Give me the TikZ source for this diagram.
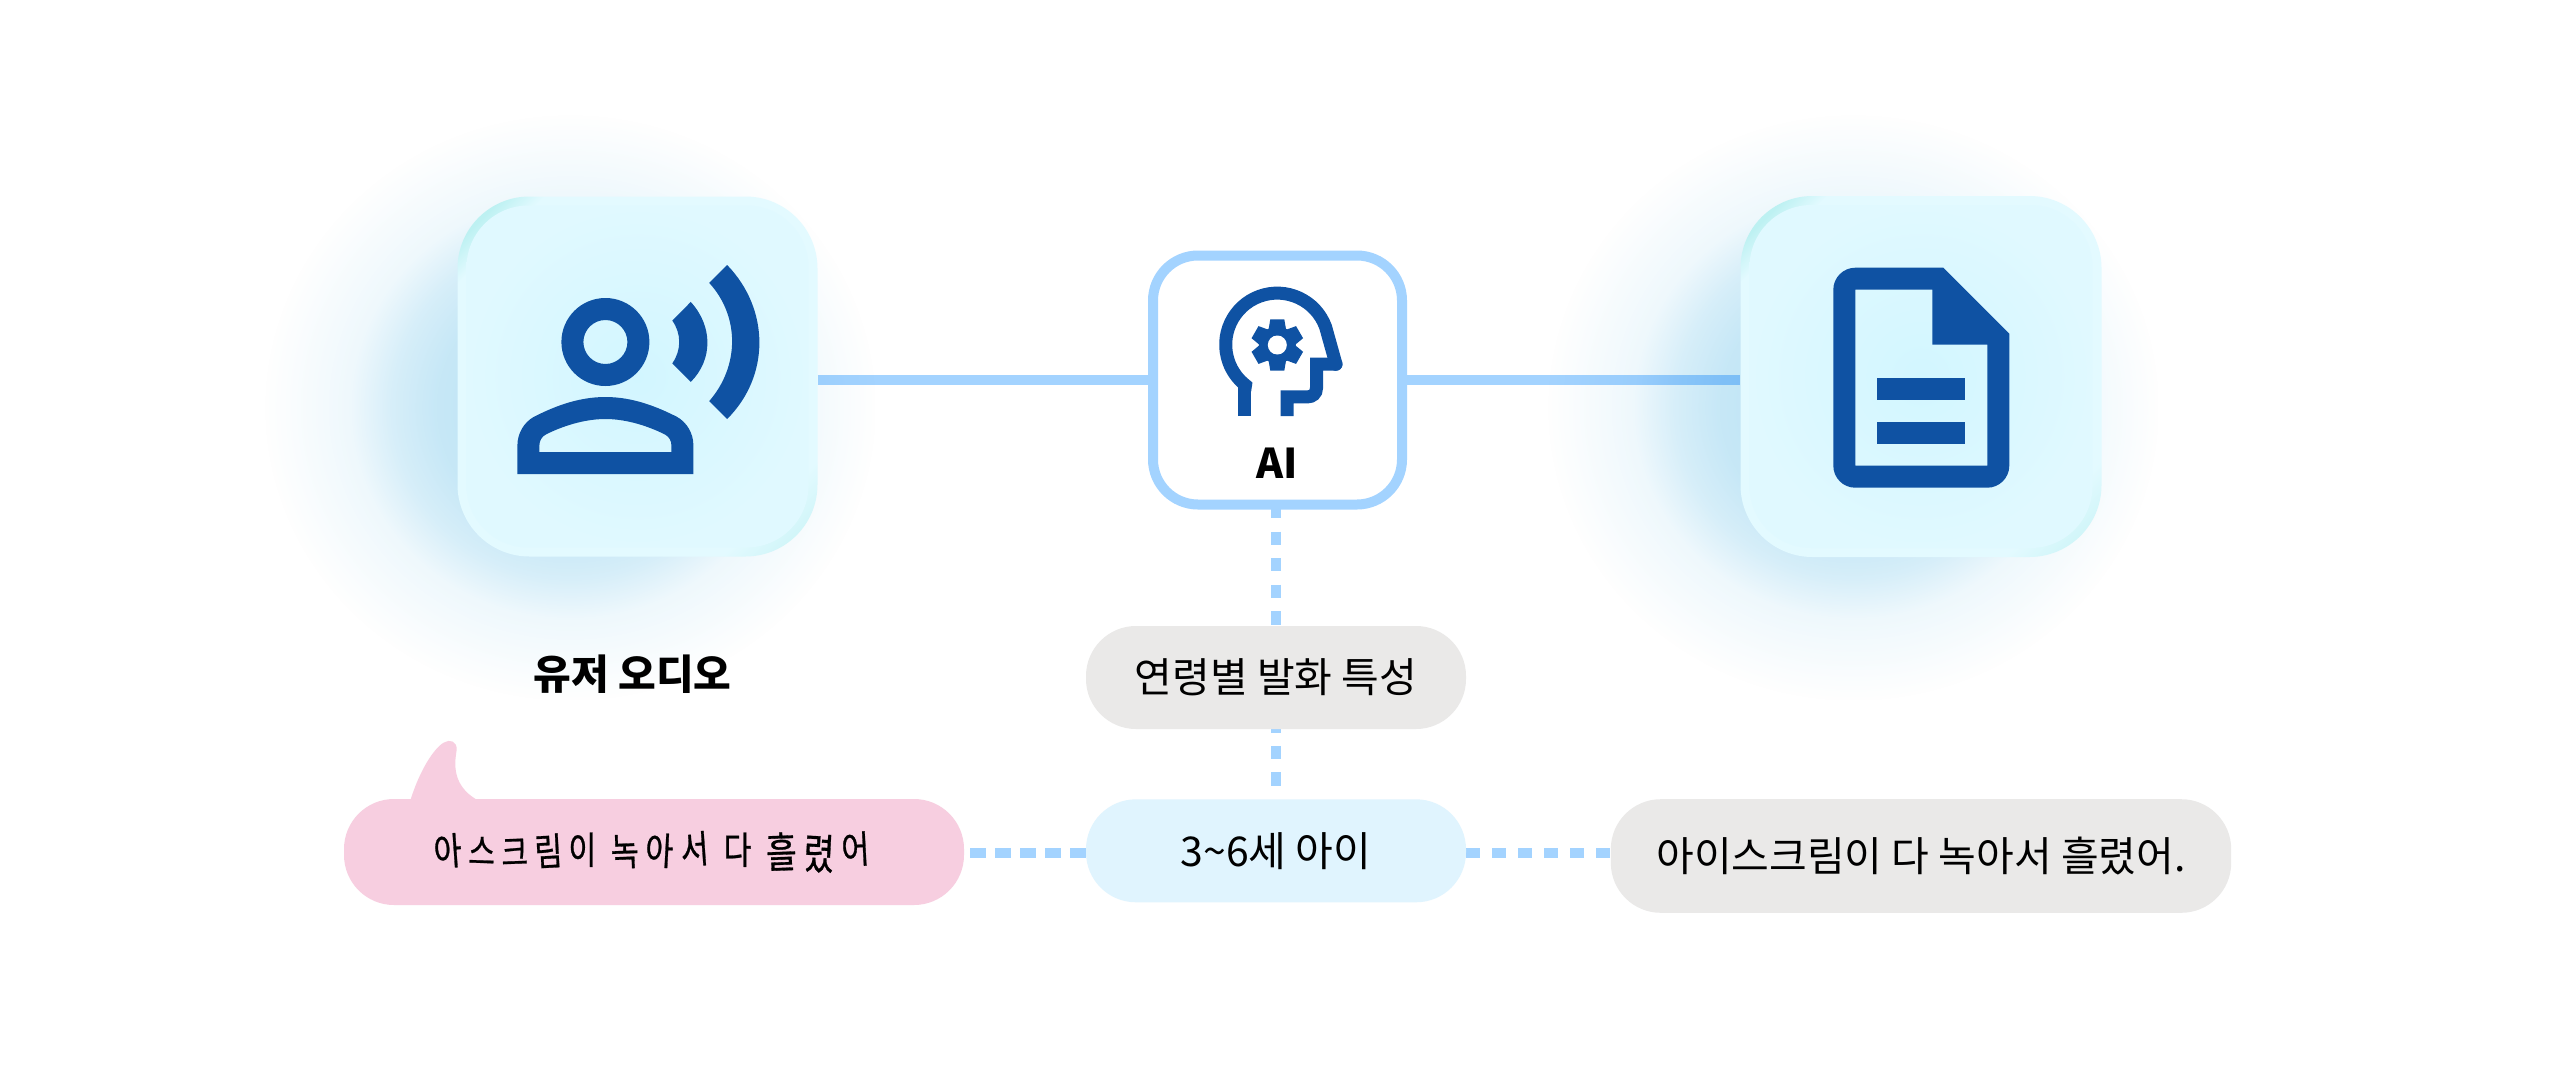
\documentclass[tikz,border=0pt]{standalone}
\usepackage{fontspec}
\setmainfont{Noto Sans CJK KR}
\newfontfamily\handfont[FakeStretch=0.8,FakeBold=0.7]{Noto Sans CJK KR}
\usetikzlibrary{svg.path,calc,fadings}
\definecolor{linec}{HTML}{A3D3FF}
\definecolor{iconc}{HTML}{0F52A3}
\definecolor{greyc}{HTML}{EAE9E8}
\definecolor{bluec}{HTML}{E0F4FE}
\definecolor{pinkc}{HTML}{F7CEE0}
\definecolor{glowc}{HTML}{A5DAF2}
\definecolor{edgea}{HTML}{CFF5F8}
\definecolor{edgeb}{HTML}{BDF1F2}
\definecolor{edgem}{HTML}{E3FAFF}
\definecolor{innera}{HTML}{D2F6FF}
\definecolor{innerb}{HTML}{E0F9FF}
\pgfdeclarehorizontalshading{cornerglow}{100bp}{color(0bp)=(edgea);color(18bp)=(edgea);color(24bp)=(edgem);color(77bp)=(edgem);color(81bp)=(edgeb);color(100bp)=(edgeb)}
\pgfdeclareradialshading{glowshade}{\pgfpoint{0bp}{0bp}}{color(0bp)=(pgftransparent!15);color(11bp)=(pgftransparent!38);color(14.5bp)=(pgftransparent!55);color(18bp)=(pgftransparent!82);color(25bp)=(pgftransparent!100);color(50bp)=(pgftransparent!100)}
\pgfdeclarefading{glowfade}{\pgfuseshading{glowshade}}
\tikzset{
  solidline/.style={linec,line width=5pt},
  dotline/.style={linec,line width=5pt},
  pill/.style={rectangle,rounded corners=25pt,inner sep=0pt,font=\fontsize{20.5}{24}\selectfont,text=black},
  glassouter/.style={rectangle,rounded corners=36pt,minimum size=180pt,inner sep=0pt,shading=cornerglow,shading angle=135},
  glassinner/.style={rectangle,rounded corners=31pt,minimum size=171pt,inner sep=0pt,inner color=innera,outer color=innerb},
  iconfill/.style={fill=iconc,even odd rule},
  iconline/.style={draw=iconc,line width=6.5pt,miter limit=4},
  glowpatch/.style={fill=glowc,path fading=glowfade,fit fading=true,blend mode=multiply}
}
\newcommand{\hw}[4]{\scalebox{#1}{\rotatebox{#2}{\raisebox{#3pt}{#4}}}\kern2.6pt}
\begin{document}
\begin{tikzpicture}[x=0.5pt,y=-0.5pt]
\useasboundingbox[fill=white] (0,0) rectangle (2560,1071);

% named places for the connectors
\node[rectangle,minimum size=124.5pt,inner sep=0pt] (ai) at (1277.5,380) {};
\path (637.5,376.5) node[rectangle,minimum size=180pt,inner sep=0pt] (audio) {};
\path (1921,376.5) node[rectangle,minimum size=180.5pt,inner sep=0pt] (doc) {};
\path (1276,677.5) node[pill,minimum width=190pt,minimum height=51.5pt] (traits) {};
\path (1276,850.8) node[pill,minimum width=190pt,minimum height=51.5pt] (child) {};
\path (654,852) node[pill,minimum width=310pt,minimum height=53pt] (bubble) {};
\path (1921,856) node[pill,minimum width=310.2pt,minimum height=56.8pt] (result) {};

% connectors
\draw[solidline] (audio.east |- ai.west) -- (ai.west);
\draw[solidline] (ai.east) -- (doc.west |- ai.east);
\draw[dotline,dash pattern=on 6.65pt off 6.65pt] (traits.north |- ai.south) -- (traits.north);
\draw[dotline,dash pattern=on 6.65pt off 6.65pt,dash phase=5.1pt] (traits.south) -- (child.north);
\draw[dotline,dash pattern=on 7.6pt off 4.9pt] (child.west |- 0,853) -- (bubble.east |- 0,853);
\draw[dotline,dash pattern=on 6.8pt off 6.2pt] (child.east |- 0,853) -- (result.west |- 0,853);

% glows, over the lines
\fill[glowpatch] (265,115) rectangle (875,700);
\fill[glowpatch] (1548,115) rectangle (2158,700);

% glass boxes
\node[glassouter] (audioedge) at (audio) {};
\node[glassinner] (audioface) at (audio) {};
\node[glassouter,minimum size=180.5pt] (docedge) at (doc) {};
\node[glassinner,minimum size=171.5pt] (docface) at (doc) {};

% central box
\node[draw=linec,fill=white,line width=5pt,rounded corners=22.5pt,minimum size=124.5pt,inner sep=0pt] (aibox) at (ai) {};

% pills with text
\node[pill,fill=greyc,minimum width=190pt,minimum height=51.5pt] at (traits) {연령별 발화 특성};
\node[pill,fill=bluec,minimum width=190pt,minimum height=51.5pt] at (child) {3\textasciitilde 6세 아이};
\node[pill,fill=greyc,minimum width=310.2pt,minimum height=56.8pt] at (result) {아이스크림이 다 녹아서 흘렸어.};

% speech bubble
\fill[pinkc] (410.8,802) -- (410.8,799) .. controls (420,770) and (434,748) .. (444,742.5)
  .. controls (450,739) and (457,741) .. (456.7,750)
  .. controls (454,765) and (453,785) .. (475.6,799) -- (475.6,802) -- cycle;
\node[pill,fill=pinkc,minimum width=310pt,minimum height=53pt,font=\handfont\fontsize{19}{22}\selectfont] at (bubble)
  {\hw{1}{4}{0}{아}\hw{0.95}{-2}{1}{스}\hw{0.95}{2}{0}{크}\hw{1}{3}{0}{림}\hw{1}{0}{1}{이} \kern4.3pt\hw{1}{2}{0}{녹}\hw{1}{-3}{1}{아}\hw{1}{4}{1}{서} \kern4.3pt\hw{1}{0}{1}{다} \kern4.3pt\hw{1.1}{2}{-1}{흘}\hw{1.1}{-3}{-1}{렸}\hw{1}{3}{1}{어}};

\node[font=\bfseries\fontsize{20.5}{24}\selectfont,text=black] (audiolabel) at (632.5,674) {유저 오디오};
\node[font=\bfseries\fontsize{20.5}{24}\selectfont,text=black] (ailabel) at (1277,463) {AI};

% person icon
\begin{scope}[shift={(506.4,243)},xscale=5.5,yscale=-5.5]
\fill[iconfill] svg {M9 13c2.21 0 4-1.79 4-4s-1.79-4-4-4-4 1.79-4 4 1.79 4 4 4zM9 7c1.1 0 2 .9 2 2s-.9 2-2 2-2-.9-2-2 .9-2 2-2z};
\fill[iconfill] svg {M9 14C6.33 14 4.1 15 2.5 15.8 1.6 16.3 1 17.3 1 18.4V21H17V18.4C17 17.3 16.4 16.3 15.5 15.8 13.9 15 11.67 14 9 14zM3 19V18.4C3 18 3.2 17.6 3.6 17.4 5 16.7 7 16 9 16S13 16.7 14.4 17.4C14.8 17.6 15 18 15 18.4V19z};
\fill[iconfill] svg {M16.76 5.36l-1.68 1.69c.84 1.18.84 2.71 0 3.89l1.68 1.69c2.02-2.02 2.02-5.07 0-7.27z};
\fill[iconfill] svg {M20.07 2l-1.63 1.63c2.77 3.02 2.77 7.56 0 10.74L20.07 16c3.9-3.89 3.91-9.95 0-14z};
\end{scope}

% document icon
\begin{scope}[shift={(1789.3,245.7)},xscale=5.5,yscale=-5.5]
\fill[iconfill] svg {M14 2H6C4.9 2 4 2.9 4 4V20C4 21.1 4.89 22 5.99 22H18C19.1 22 20 21.1 20 20V8L14 2ZM18 20H6V4H13V9H18V20Z};
\fill[iconfill] svg {M8 16H16V18H8Z};
\fill[iconfill] svg {M8 12H16V14H8Z};
\end{scope}

% head icon
\draw[iconline,line cap=round] (1336,364.2) -- (1325.6,327) arc[start angle=340,end angle=128,radius=51.5] -- (1244.8,390);
\draw[iconline] (1244.8,416) -- (1244.8,385.5);
\draw[iconline,line cap=butt] (1336,364.2) -- (1316.5,364.2) -- (1316.5,388) .. controls (1316.5,394) and (1312,396.8) .. (1308,396.8) -- (1287.2,396.8) -- (1287.2,416);
\fill[iconc] (1336,364.2) circle[radius=6.5];
\fill[iconc] (1277.3,345) circle[radius=18.5];
\foreach \a in {90,30,-30,-90,150,210}{
  \fill[iconc,shift={(1277.3,345)},rotate=\a] (14,-9) -- (25.7,-7) -- (25.7,7) -- (14,9) -- cycle;
}
\fill[white] (1277.3,345) circle[radius=9.5];
\end{tikzpicture}
\end{document}
